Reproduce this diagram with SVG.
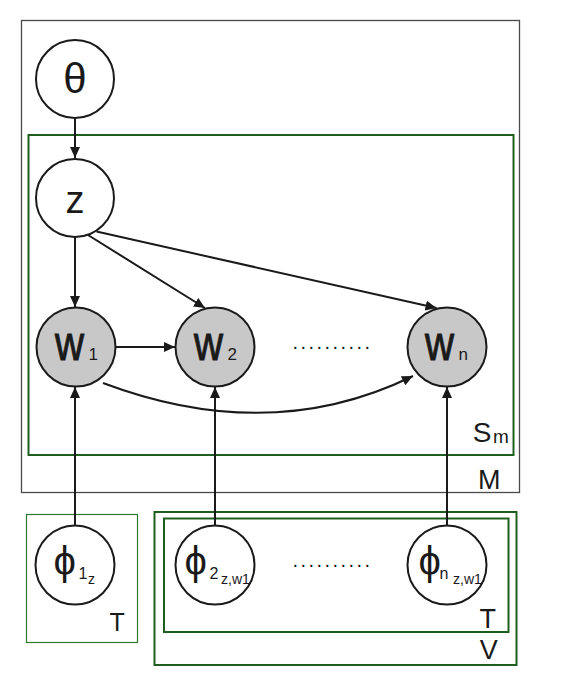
<svg xmlns="http://www.w3.org/2000/svg" width="581" height="675" viewBox="0 0 581 675">
<style>
  .node { fill: #ffffff; stroke: #1a1a1a; stroke-width: 2; }
  .obs { fill: #c8c8c8; stroke: #1a1a1a; stroke-width: 2; }
  .t { font-family: "Liberation Sans", Arial, sans-serif; fill: #1a1a1a; }
  .w { stroke: #1a1a1a; stroke-width: 1; }
  .edge { fill: none; stroke: #1a1a1a; stroke-width: 2; }
  .plate { fill: none; stroke: #1e5e1e; stroke-width: 2; }
</style>
<defs>
  <marker id="arr" markerUnits="userSpaceOnUse" markerWidth="12" markerHeight="10" refX="11" refY="5" orient="auto">
    <path d="M0,0 L11,5 L0,10 Z" fill="#1a1a1a"/>
  </marker>
</defs>
<rect width="581" height="675" fill="#ffffff"/>

<g id="plates">
  <rect id="plate-M" x="21.5" y="20.5" width="498" height="472" fill="none" stroke="#4a4a4a" stroke-width="1.3"/>
  <rect id="plate-Sm" x="28.5" y="135" width="485" height="320" class="plate"/>
  <rect id="plate-T1" x="26.5" y="514.5" width="111" height="128" fill="none" stroke="#2f7a2f" stroke-width="1.2"/>
  <rect id="plate-V" x="154.5" y="512" width="362" height="153" class="plate"/>
  <rect id="plate-T2" x="164" y="518.5" width="344.5" height="113.5" class="plate"/>
  <text class="t" x="472.7" y="442" font-size="28">S</text>
  <text class="t" x="493" y="443" font-size="19">m</text>
  <text class="t" x="478" y="489" font-size="27">M</text>
  <text class="t" x="109.5" y="631" font-size="25">T</text>
  <text class="t" x="479.5" y="627.5" font-size="27">T</text>
  <text class="t" x="479.7" y="659" font-size="27">V</text>
</g>

<g id="connectors">
  <line class="edge" x1="75" y1="118" x2="75" y2="158" marker-end="url(#arr)"/>
  <line class="edge" x1="75" y1="237" x2="75" y2="307" marker-end="url(#arr)"/>
  <line class="edge" x1="88" y1="235" x2="205" y2="308" marker-end="url(#arr)"/>
  <line class="edge" x1="96.5" y1="231.5" x2="436.5" y2="308" marker-end="url(#arr)"/>
  <line class="edge" x1="116" y1="347" x2="175" y2="347" marker-end="url(#arr)"/>
  <path class="edge" d="M103,383 Q270,446 413,376" marker-end="url(#arr)"/>
  <line class="edge" x1="75" y1="525" x2="75" y2="387" marker-end="url(#arr)"/>
  <line class="edge" x1="215" y1="525" x2="215" y2="387" marker-end="url(#arr)"/>
  <line class="edge" x1="447" y1="525" x2="447" y2="387" marker-end="url(#arr)"/>
</g>

<g id="node-theta">
  <circle class="node" cx="75" cy="79" r="39"/>
  <text class="t" x="75" y="93" font-size="42" text-anchor="middle">θ</text>
</g>
<g id="node-z">
  <circle class="node" cx="75" cy="198" r="39"/>
  <text class="t" x="75" y="213" font-size="38" text-anchor="middle">z</text>
</g>
<g id="node-w1">
  <circle class="obs" cx="76" cy="347" r="39.5"/>
  <text class="t w" x="55" y="360" font-size="48" textLength="29" lengthAdjust="spacingAndGlyphs">w</text>
  <text class="t" x="88.5" y="360" font-size="17">1</text>
</g>
<g id="node-w2">
  <circle class="obs" cx="215" cy="347" r="39.5"/>
  <text class="t w" x="194" y="360" font-size="48" textLength="29" lengthAdjust="spacingAndGlyphs">w</text>
  <text class="t" x="227.5" y="360" font-size="17">2</text>
</g>
<g id="dots-w">
  <text class="t" x="292.5" y="348.5" font-size="20" letter-spacing="2.44">..........</text>
</g>
<g id="node-wn">
  <circle class="obs" cx="447" cy="347" r="39.5"/>
  <text class="t w" x="425" y="360" font-size="48" textLength="29" lengthAdjust="spacingAndGlyphs">w</text>
  <text class="t" x="458.5" y="360" font-size="17">n</text>
</g>
<g id="node-phi1">
  <circle class="node" cx="75" cy="565" r="39.5"/>
  <text class="t" x="53.5" y="575" font-size="40">ϕ</text>
  <text class="t" x="78.5" y="579" font-size="16">1</text>
  <text class="t" x="88" y="584" font-size="14">z</text>
</g>
<g id="node-phi2">
  <circle class="node" cx="215" cy="565" r="39.5"/>
  <text class="t" x="184.5" y="575" font-size="40">ϕ</text>
  <text class="t" x="209.5" y="579" font-size="16">2</text>
  <text class="t" x="221" y="584" font-size="14">z,w1</text>
</g>
<g id="dots-phi">
  <text class="t" x="292.5" y="566.5" font-size="20" letter-spacing="2.44">..........</text>
</g>
<g id="node-phin">
  <circle class="node" cx="447" cy="565" r="39.5"/>
  <text class="t" x="418.5" y="575" font-size="40">ϕ</text>
  <text class="t" x="439.5" y="579" font-size="16">n</text>
  <text class="t" x="453" y="584" font-size="14">z,w1</text>
</g>
</svg>
